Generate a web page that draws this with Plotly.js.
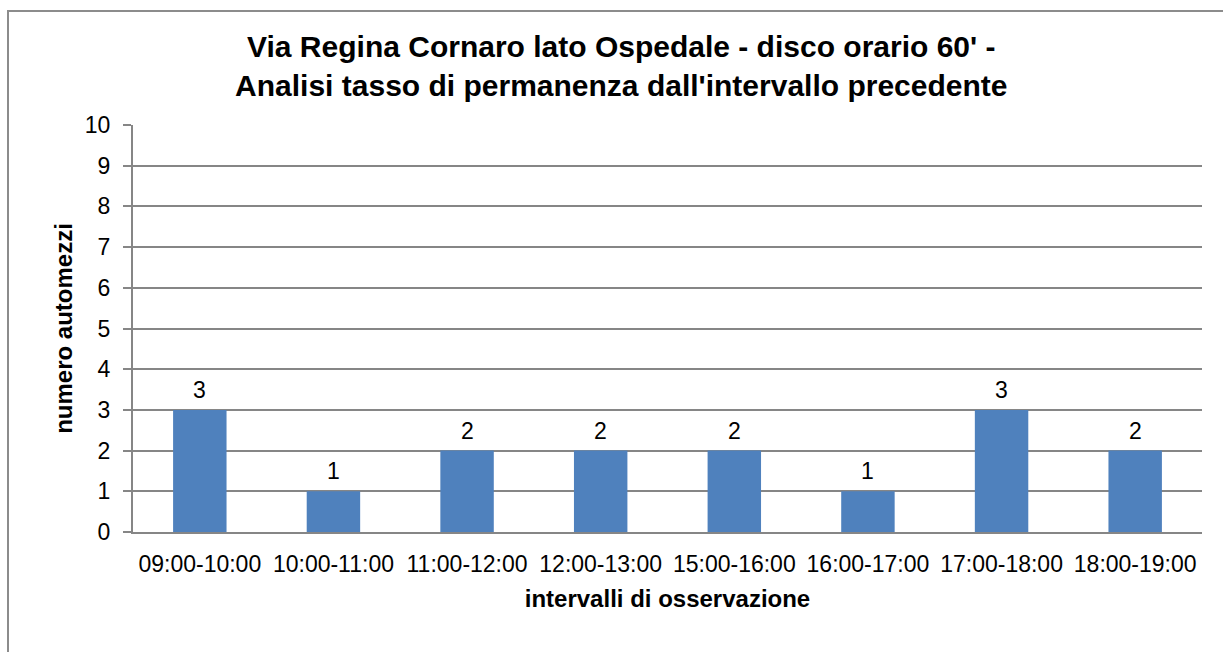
<!DOCTYPE html>
<html>
<head>
<meta charset="utf-8">
<script src="https://cdn.plot.ly/plotly-3.0.1.min.js"></script>
<style>
html,body{margin:0;padding:0;background:#fff;}
#frame{position:absolute;left:7px;top:10px;width:1300px;height:700px;border-left:2px solid #8c8c8c;border-top:2px solid #8c8c8c;}
#chart{position:absolute;left:0;top:0;width:1223px;height:652px;}
</style>
</head>
<body>
<div id="frame"></div>
<div id="chart"></div>
<script>
const categories = ["09:00-10:00","10:00-11:00","11:00-12:00","12:00-13:00","15:00-16:00","16:00-17:00","17:00-18:00","18:00-19:00"];
const values = [3,1,2,2,2,1,3,2];
const yTicks = [0,1,2,3,4,5,6,7,8,9,10];

const font = "Liberation Sans, Arial, sans-serif";
const labels = categories.map((c, i) => ({
  x: c, y: values[i], xref: "x", yref: "y",
  text: String(values[i]), showarrow: false,
  yanchor: "bottom", yshift: 5,
  font: {family: font, size: 23, color: "#000"}
}));

Plotly.newPlot("chart", [{
  type: "bar",
  x: categories,
  y: values,
  marker: {color: "#4F81BD"},
  hoverinfo: "none"
}], {
  width: 1223, height: 652,
  paper_bgcolor: "rgba(0,0,0,0)",
  plot_bgcolor: "rgba(0,0,0,0)",
  margin: {l: 133, r: 21, t: 125, b: 120},
  bargap: 0.6,
  showlegend: false,
  annotations: labels,
  title: {
    text: "<b>Via Regina Cornaro lato Ospedale - disco orario 60' -<br>Analisi tasso di permanenza dall'intervallo precedente</b>",
    font: {family: font, size: 30, color: "#000"},
    x: 0.508, xanchor: "center", y: 0.912, yanchor: "top"
  },
  xaxis: {
    type: "category",
    showline: true, linecolor: "#868686", linewidth: 2,
    ticks: "", showgrid: false,
    tickfont: {family: font, size: 23, color: "#000"},
    ticklabelstandoff: 10,
    title: {text: "<b>intervalli di osservazione</b>", font: {family: font, size: 24, color: "#000"}, standoff: 15},
    automargin: false
  },
  yaxis: {
    range: [0, 10],
    tickvals: yTicks,
    ticktext: yTicks.map(String),
    showline: true, linecolor: "#868686", linewidth: 2,
    ticks: "outside", ticklen: 8, tickcolor: "#868686", tickwidth: 2,
    showgrid: true, gridcolor: "#868686", gridwidth: 2,
    zeroline: false,
    tickfont: {family: font, size: 23, color: "#000"},
    ticklabelstandoff: 8,
    title: {text: "<b>numero automezzi</b>", font: {family: font, size: 24, color: "#000"}, standoff: 5},
    automargin: false
  }
}, {staticPlot: true});
</script>
</body>
</html>
